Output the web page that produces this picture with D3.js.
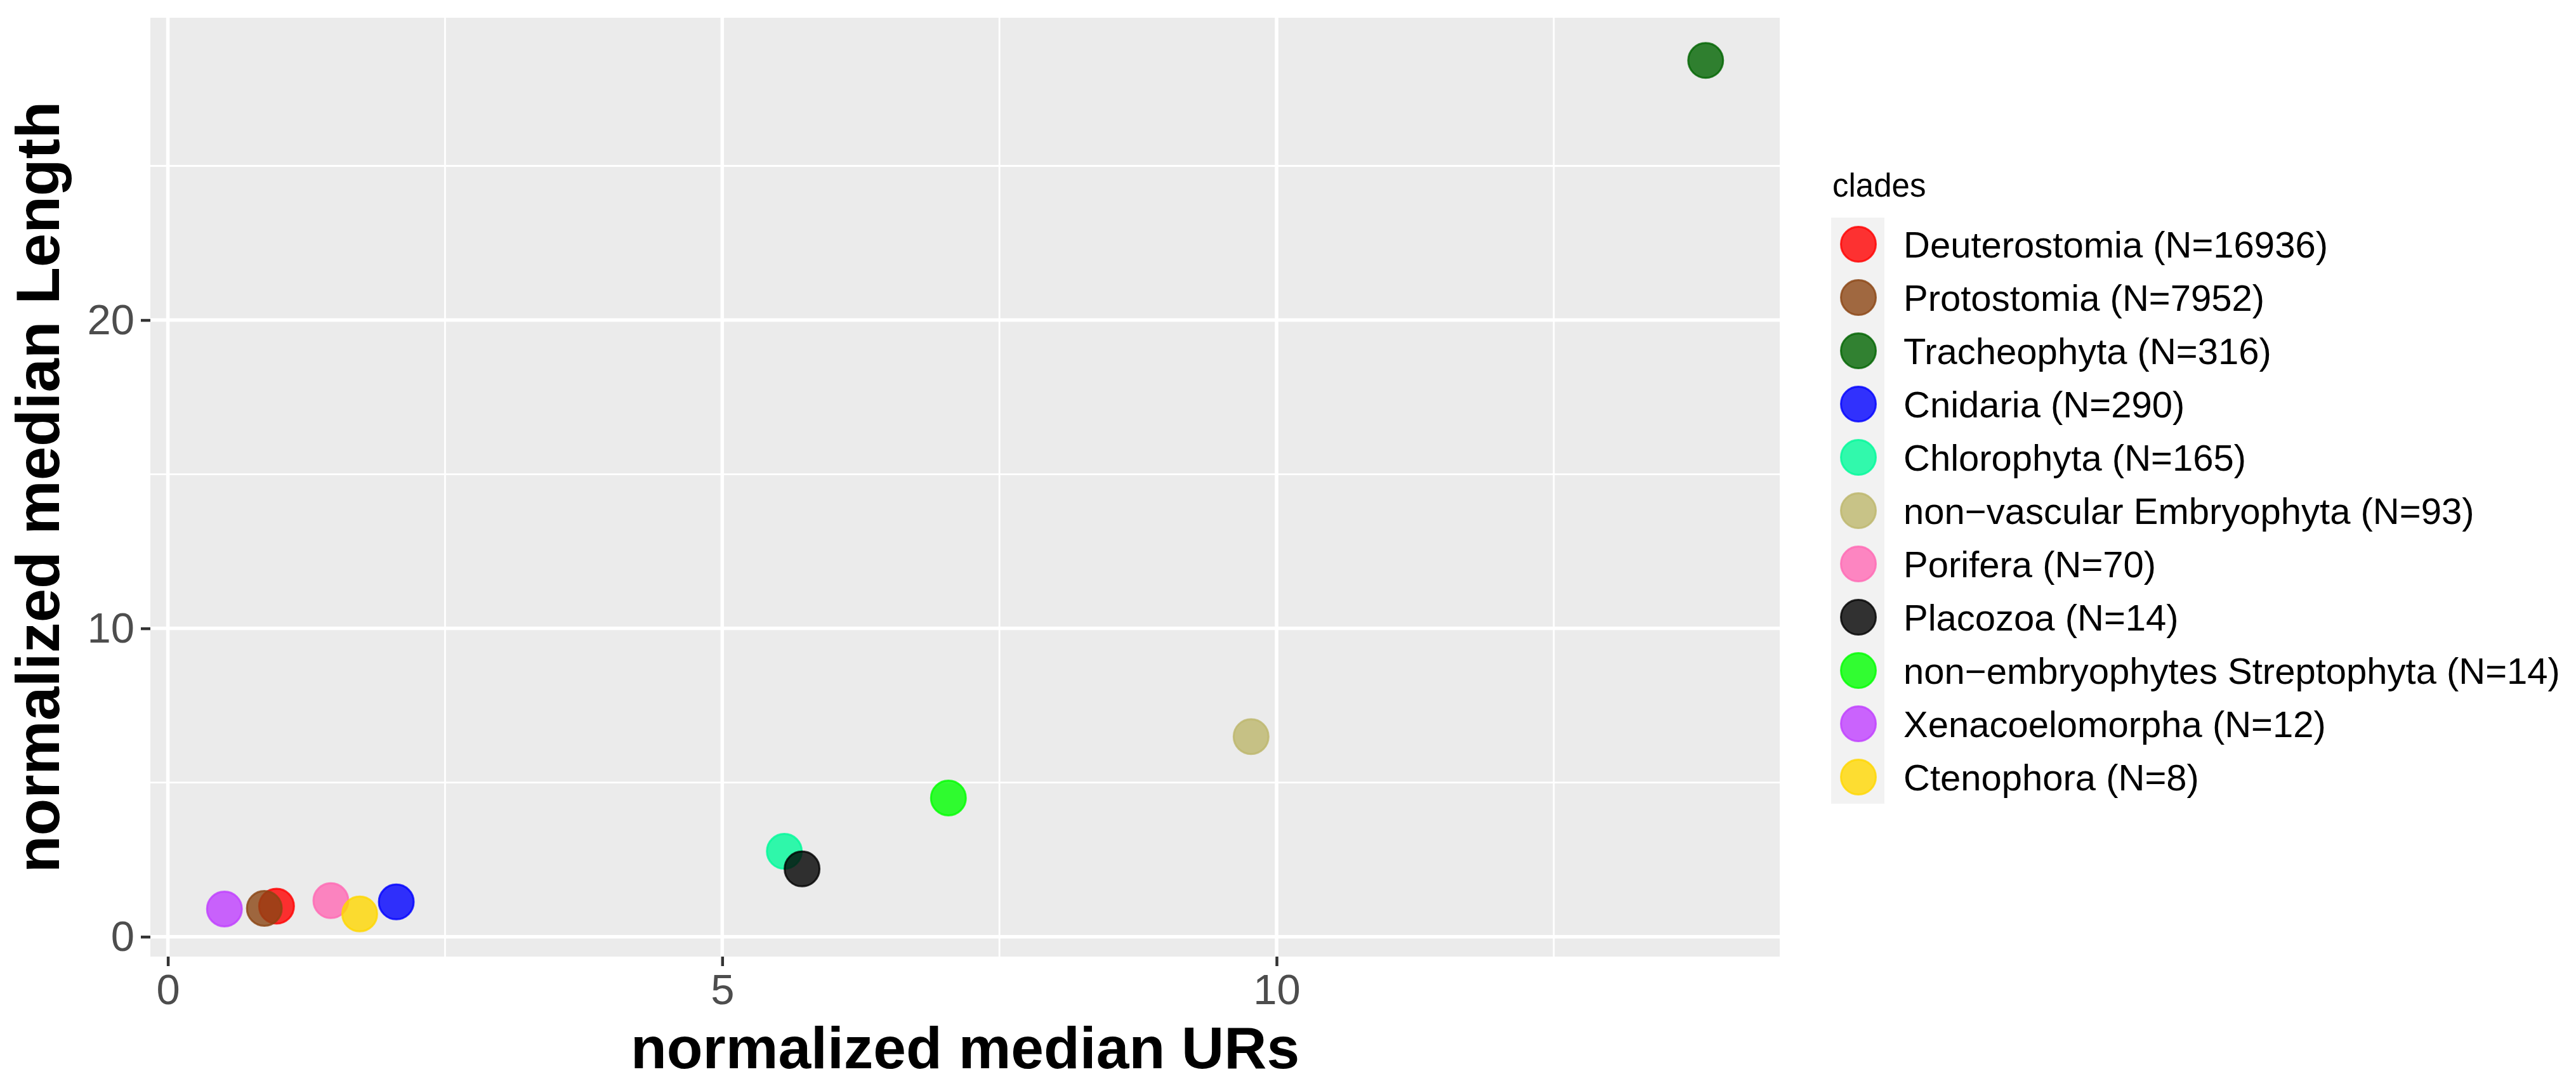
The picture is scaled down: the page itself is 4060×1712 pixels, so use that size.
<!DOCTYPE html>
<html>
<head>
<meta charset="utf-8">
<script src="https://cdn.jsdelivr.net/npm/d3@7"></script>
<style>
  body { margin: 0; background: #fff; }
  text { font-family: "Liberation Sans", Arial, sans-serif; }
</style>
</head>
<body>
<script>
// clades in legend order (also the drawing order)
const clades = [
  "Deuterostomia (N=16936)",
  "Protostomia (N=7952)",
  "Tracheophyta (N=316)",
  "Cnidaria (N=290)",
  "Chlorophyta (N=165)",
  "non\u2212vascular Embryophyta (N=93)",
  "Porifera (N=70)",
  "Placozoa (N=14)",
  "non\u2212embryophytes Streptophyta (N=14)",
  "Xenacoelomorpha (N=12)",
  "Ctenophora (N=8)"
];
const cladeColors = [
  "#ff0000", "#8b4513", "#006400", "#0000ff", "#00fa9a", "#bdb76b",
  "#ff69b4", "#000000", "#00ff00", "#bf3eff", "#ffd700"
];
const medianURs = [0.98, 0.87, 13.87, 2.06, 5.56, 9.77, 1.47, 5.72, 7.04, 0.51, 1.73];
const medianLength = [0.99, 0.92, 28.42, 1.13, 2.77, 6.49, 1.17, 2.20, 4.50, 0.90, 0.74];

const xMajor = [0, 5, 10], xMinor = [2.5, 7.5, 12.5];
const yMajor = [0, 10, 20], yMinor = [5, 15, 25];

const width = 4060, height = 1712;
const panel = { left: 237, right: 2805, top: 28, bottom: 1508 };

const data = clades.map((c, i) => ({
  clade: c,
  color: cladeColors[i],
  x: medianURs[i],
  y: medianLength[i]
}));

// ggplot-like 5% expansion
function expand(ext) {
  const pad = (ext[1] - ext[0]) * 0.05;
  return [ext[0] - pad, ext[1] + pad];
}

const x = d3.scaleLinear()
  .domain(expand(d3.extent(data, d => d.x)))
  .range([panel.left, panel.right]);
const y = d3.scaleLinear()
  .domain(expand(d3.extent(data, d => d.y)))
  .range([panel.bottom, panel.top]);

const svg = d3.select("body").append("svg")
  .attr("width", width)
  .attr("height", height);

svg.append("rect")
  .attr("x", panel.left)
  .attr("y", panel.top)
  .attr("width", panel.right - panel.left)
  .attr("height", panel.bottom - panel.top)
  .attr("fill", "#ebebeb");

const grid = svg.append("g").attr("stroke", "#fff");

grid.selectAll(".xminor").data(xMinor).enter().append("line")
  .attr("x1", d => x(d)).attr("x2", d => x(d))
  .attr("y1", panel.top).attr("y2", panel.bottom)
  .attr("stroke-width", 2.8);
grid.selectAll(".yminor").data(yMinor).enter().append("line")
  .attr("y1", d => y(d)).attr("y2", d => y(d))
  .attr("x1", panel.left).attr("x2", panel.right)
  .attr("stroke-width", 2.8);
grid.selectAll(".xmajor").data(xMajor).enter().append("line")
  .attr("x1", d => x(d)).attr("x2", d => x(d))
  .attr("y1", panel.top).attr("y2", panel.bottom)
  .attr("stroke-width", 5.5);
grid.selectAll(".ymajor").data(yMajor).enter().append("line")
  .attr("y1", d => y(d)).attr("y2", d => y(d))
  .attr("x1", panel.left).attr("x2", panel.right)
  .attr("stroke-width", 5.5);

// axes
const xAxis = svg.append("g")
  .attr("transform", "translate(0," + panel.bottom + ")")
  .call(d3.axisBottom(x).tickValues(xMajor).tickSize(15).tickPadding(12).tickFormat(d3.format("d")));
const yAxis = svg.append("g")
  .attr("transform", "translate(" + panel.left + ",0)")
  .call(d3.axisLeft(y).tickValues(yMajor).tickSize(15).tickPadding(10).tickFormat(d3.format("d")));

[xAxis, yAxis].forEach(a => {
  a.select(".domain").remove();
  a.selectAll(".tick line").attr("stroke", "#333").attr("stroke-width", 4.5);
  a.selectAll(".tick text")
    .attr("fill", "#4d4d4d")
    .style("font-size", "67px")
    .style("font-family", "'Liberation Sans', Arial, sans-serif");
});

// points
svg.append("g")
  .selectAll("circle")
  .data(data)
  .enter()
  .append("circle")
    .attr("cx", d => x(d.x))
    .attr("cy", d => y(d.y))
    .attr("r", 27.5)
    .attr("fill", d => d.color)
    .attr("fill-opacity", 0.8)
    .attr("stroke", d => d.color)
    .attr("stroke-opacity", 0.8)
    .attr("stroke-width", 3);

// axis titles
svg.append("text")
  .attr("x", (panel.left + panel.right) / 2)
  .attr("y", 1684)
  .attr("text-anchor", "middle")
  .style("font-size", "93px")
  .style("font-weight", "bold")
  .text("normalized median URs");

svg.append("text")
  .attr("transform", "translate(93," + (panel.top + panel.bottom) / 2 + ") rotate(-90)")
  .attr("text-anchor", "middle")
  .style("font-size", "96px")
  .style("font-weight", "bold")
  .text("normalized median Length");

// legend
const legend = svg.append("g").attr("transform", "translate(2886,343)");
const keyH = 84, keyW = 84;

legend.append("text")
  .attr("x", 2)
  .attr("y", -33)
  .style("font-size", "51px")
  .text("clades");

const item = legend.selectAll(".item")
  .data(data)
  .enter()
  .append("g")
    .attr("transform", (d, i) => "translate(0," + i * keyH + ")");

item.append("rect")
  .attr("width", keyW)
  .attr("height", keyH)
  .attr("fill", "#f2f2f2");

item.append("circle")
  .attr("cx", keyW / 2 + 1)
  .attr("cy", keyH / 2)
  .attr("r", 27.5)
  .attr("fill", d => d.color)
  .attr("fill-opacity", 0.8)
  .attr("stroke", d => d.color)
  .attr("stroke-opacity", 0.8)
  .attr("stroke-width", 3);

item.append("text")
  .attr("x", 114)
  .attr("y", keyH / 2)
  .attr("dy", "0.36em")
  .style("font-size", "58px")
  .text(d => d.clade);
</script>
</body>
</html>
